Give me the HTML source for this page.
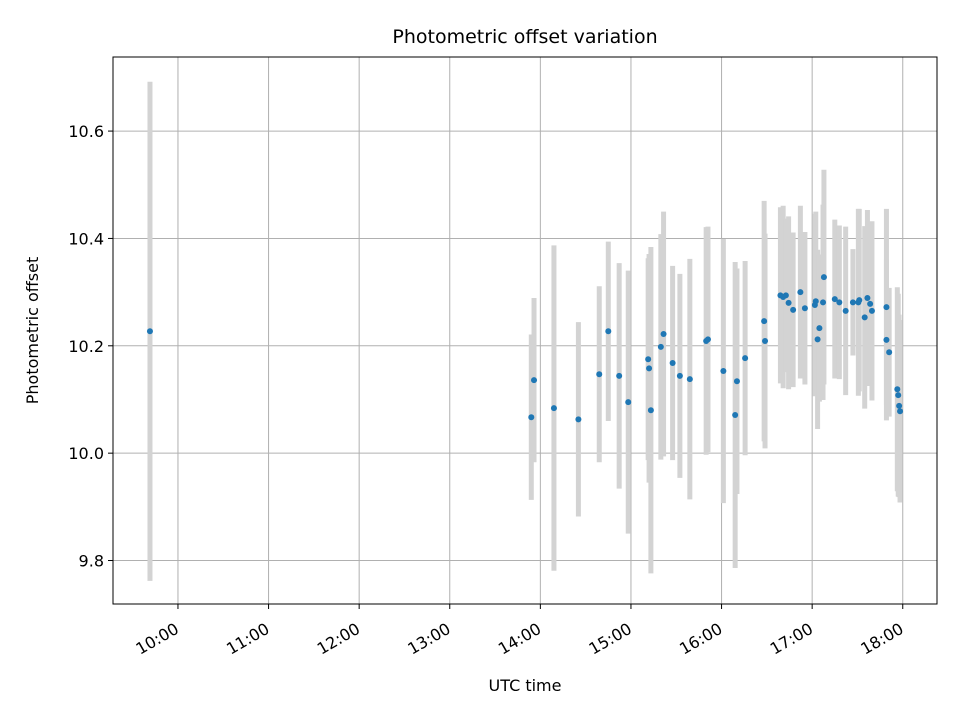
<!DOCTYPE html>
<html><head><meta charset="utf-8"><style>
body{margin:0;background:#fff;}
svg{display:block;font-family:"DejaVu Sans","Liberation Sans",sans-serif;}
</style></head><body>
<svg id="chart" width="960" height="720" viewBox="0 0 960 720"></svg>
<script>
const times = [9.691,13.90,13.93,14.15,14.42,14.65,14.75,14.87,14.97,15.19,15.20,15.22,15.33,15.36,15.46,15.54,15.65,15.83,15.85,16.02,16.15,16.17,16.26,16.47,16.48,16.65,16.68,16.71,16.74,16.79,16.87,16.92,17.03,17.04,17.06,17.08,17.12,17.13,17.25,17.30,17.37,17.45,17.51,17.52,17.58,17.61,17.64,17.66,17.82,17.82,17.85,17.94,17.95,17.96,17.97];
const offsets = [10.227,10.067,10.136,10.084,10.063,10.147,10.227,10.144,10.095,10.175,10.158,10.080,10.198,10.222,10.168,10.144,10.138,10.209,10.212,10.153,10.071,10.134,10.177,10.246,10.209,10.294,10.291,10.294,10.280,10.267,10.300,10.270,10.276,10.283,10.212,10.233,10.281,10.328,10.287,10.281,10.265,10.281,10.281,10.285,10.253,10.289,10.278,10.265,10.272,10.211,10.188,10.119,10.108,10.088,10.078];
const errors = [0.465,0.154,0.153,0.303,0.181,0.164,0.167,0.210,0.245,0.188,0.213,0.304,0.210,0.228,0.181,0.190,0.224,0.212,0.21,0.246,0.285,0.210,0.181,0.224,0.2,0.164,0.17,0.143,0.161,0.144,0.161,0.142,0.17,0.167,0.167,0.137,0.182,0.2,0.148,0.143,0.157,0.099,0.174,0.17,0.17,0.164,0.15,0.167,0.183,0.15,0.12,0.19,0.189,0.17,0.17];
const xTickLabels = ["10:00","11:00","12:00","13:00","14:00","15:00","16:00","17:00","18:00"];
const xTickHours = [10,11,12,13,14,15,16,17,18];
const yTickValues = [9.8,10.0,10.2,10.4,10.6];

const L=113,R=937,T=57,B=604;
const xMin=9.283,xMax=18.378,yMin=9.719,yMax=10.738;
const sx=h=>L+(h-xMin)/(xMax-xMin)*(R-L);
const sy=v=>B-(v-yMin)/(yMax-yMin)*(B-T);
const NS="http://www.w3.org/2000/svg";
const svg=document.getElementById('chart');
function mk(tag,attrs,parent){const e=document.createElementNS(NS,tag);for(const k in attrs)e.setAttribute(k,attrs[k]);(parent||svg).appendChild(e);return e;}

const grid=mk('g',{});


xTickHours.forEach(h=>{const l=mk('line',{x1:sx(h),x2:sx(h),y1:T,y2:B,stroke:'#b0b0b0','stroke-width':1},grid);

});
yTickValues.forEach(v=>{const l=mk('line',{x1:L,x2:R,y1:sy(v),y2:sy(v),stroke:'#b0b0b0','stroke-width':1},grid);

});

const eb=mk('g',{});


times.forEach((t,i)=>{const l=mk('line',{x1:sx(t),x2:sx(t),y1:sy(offsets[i]+errors[i]),y2:sy(offsets[i]-errors[i]),stroke:'#d3d3d3','stroke-width':5},eb);

});
const pts=mk('g',{});


times.forEach((t,i)=>{const c=mk('circle',{cx:sx(t),cy:sy(offsets[i]),r:3,fill:'#1f77b4'},pts);

});

const frame=mk('rect',{x:L,y:T,width:R-L,height:B-T,fill:'none',stroke:'#000','stroke-width':1});



xTickHours.forEach((h,i)=>{const x=sx(h);
const tk=mk('line',{x1:x,x2:x,y1:B,y2:B+5,stroke:'#000'});


const ax=x+2, ay=B+28;
const tx=mk('text',{x:ax,y:ay,'text-anchor':'end','font-size':16,transform:`rotate(-30 ${ax} ${ay})`});
tx.textContent=xTickLabels[i];

});
yTickValues.forEach(v=>{const y=sy(v);
const tk=mk('line',{x1:L-5,x2:L,y1:y,y2:y,stroke:'#000'});


const tx=mk('text',{x:L-9,y:y+6,'text-anchor':'end','font-size':16});
tx.textContent=v.toFixed(1);

});

const title=mk('text',{x:(L+R)/2,y:43,'text-anchor':'middle','font-size':19});
title.textContent='Photometric offset variation';


const xt=mk('text',{x:(L+R)/2,y:691,'text-anchor':'middle','font-size':16});
xt.textContent='UTC time';


const yt=mk('text',{x:38,y:(T+B)/2,'text-anchor':'middle','font-size':16,transform:`rotate(-90 38 ${(T+B)/2})`});
yt.textContent='Photometric offset';


</script>
</body></html>
